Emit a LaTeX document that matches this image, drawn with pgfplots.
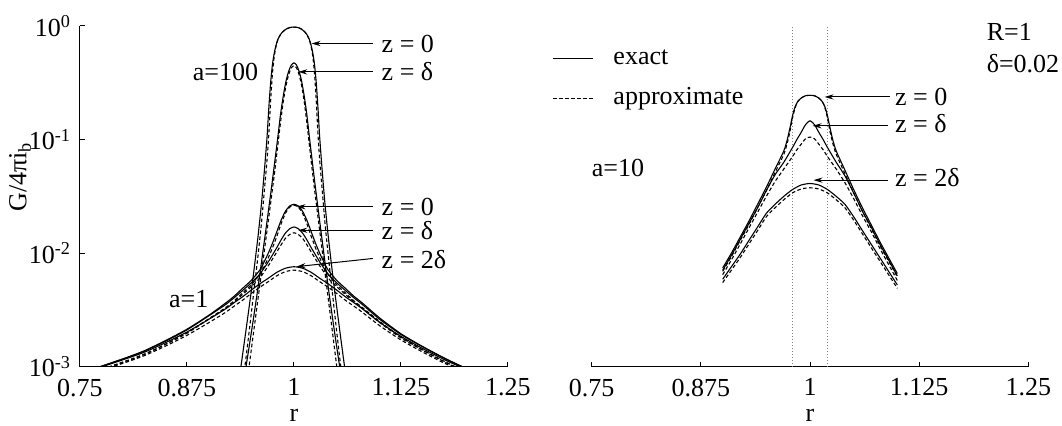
\documentclass[border=0pt]{standalone}
\usepackage{fontspec}
\setmainfont{Liberation Serif}
\usepackage{pgfplots}
\pgfplotsset{compat=1.18}
\usetikzlibrary{arrows.meta}
\tikzset{
  lab/.style={anchor=west, inner sep=0pt},
  arr/.style={-{Stealth[length=4.5pt,width=2.6pt]}, line width=0.5pt}
}
\pgfplotsset{
  ex/.style={black, line width=0.55pt, smooth, tension=0.4, no marks},
  ap/.style={black, line width=0.55pt, dash pattern=on 1.8pt off 1.2pt, smooth, tension=0.4, no marks}
}
\begin{document}
\fontsize{13}{15}\selectfont
\begin{tikzpicture}[font=\fontsize{13}{15}\selectfont]
\useasboundingbox (0,0) rectangle (531pt,212.5pt);
% ---------------- left panel ----------------
\begin{axis}[scale only axis, anchor=south west, ymode=log,
  xmin=0.75, xmax=1.25, ymin=0.001, ymax=1, height=170.4pt,
  xtick={0.75,0.875,1,1.125,1.25}, xticklabels={0.75,0.875,1,1.125,1.25},
  xticklabel style={inner sep=0.5pt, yshift=-5.3pt},
  axis x line=bottom, axis y line=left,
  axis line style={-, line width=0.5pt},
  every outer x axis line/.append style={-}, every outer y axis line/.append style={-},
  tick align=inside, major tick length=2.5pt, yminorticks=false, xminorticks=false,
  tick style={line width=0.5pt, black},
  xlabel={r}, xlabel style={at={(axis description cs:0.5,0)}, anchor=base, inner sep=0pt, yshift=-27.3pt},
  clip mode=individual,
  at={(40pt,29.15pt)}, width=214pt,
  ytick={0.001,0.01,0.1,1},
  yticklabels={10\textsuperscript{-3},10\textsuperscript{-2},10\textsuperscript{-1},10\textsuperscript{0}},
  ylabel={G/4πi\textsubscript{b}},
  ylabel style={at={(axis description cs:-0.140,0.557)}, anchor=center}]
% a=100, z=0
\addplot[ex] coordinates {(0.93175,0.000501)(0.937,0.000891)(0.94225,0.00170)(0.9475,0.00331)(0.95275,0.00661)(0.958,0.0141)(0.9622,0.0282)(0.96535,0.0525)(0.9685,0.105)(0.9706,0.191)(0.9727,0.316)(0.9748,0.457)(0.9769,0.575)(0.979,0.676)(0.9811,0.759)(0.98425,0.841)(0.9874,0.895)(0.9916,0.944)(0.9958,0.971)(1,0.977)(1.004,0.971)(1.008,0.944)(1.012,0.895)(1.015,0.841)(1.018,0.759)(1.02,0.676)(1.022,0.575)(1.024,0.457)(1.026,0.316)(1.028,0.191)(1.03,0.105)(1.033,0.0525)(1.036,0.0282)(1.04,0.0141)(1.045,0.00661)(1.05,0.00331)(1.055,0.00170)(1.06,0.000891)(1.065,0.000501)};
\addplot[ap] coordinates {(0.937,0.000501)(0.94225,0.000955)(0.9475,0.00200)(0.95275,0.00437)(0.958,0.00955)(0.9622,0.0191)(0.96535,0.0355)(0.9685,0.0661)(0.9706,0.112)(0.9727,0.219)(0.9748,0.380)(0.9769,0.537)(0.979,0.661)(0.9811,0.750)(0.98425,0.841)(0.9874,0.895)(0.9916,0.944)(0.9958,0.971)(1,0.977)(1.004,0.971)(1.008,0.944)(1.012,0.895)(1.015,0.841)(1.018,0.750)(1.02,0.661)(1.022,0.537)(1.024,0.380)(1.026,0.219)(1.028,0.112)(1.03,0.0661)(1.033,0.0355)(1.036,0.0191)(1.04,0.00955)(1.045,0.00437)(1.05,0.00200)(1.055,0.000955)(1.06,0.000501)};
% a=100, z=delta
\addplot[ex] coordinates {(0.937,0.000468)(0.94225,0.000832)(0.9475,0.00148)(0.95275,0.00269)(0.958,0.00501)(0.96325,0.00977)(0.9685,0.0191)(0.97375,0.0380)(0.97795,0.0676)(0.9811,0.105)(0.98425,0.166)(0.9874,0.240)(0.99055,0.324)(0.9937,0.398)(0.99685,0.452)(1,0.473)(1.003,0.452)(1.006,0.398)(1.009,0.324)(1.012,0.240)(1.015,0.166)(1.018,0.105)(1.021,0.0676)(1.025,0.0380)(1.03,0.0191)(1.035,0.00977)(1.04,0.00501)(1.045,0.00269)(1.05,0.00148)(1.055,0.000832)(1.06,0.000468)};
\addplot[ap] coordinates {(0.94225,0.000501)(0.9475,0.00100)(0.95275,0.00200)(0.958,0.00398)(0.96325,0.00794)(0.9685,0.0158)(0.97375,0.0316)(0.97795,0.0562)(0.9811,0.0891)(0.98425,0.141)(0.9874,0.214)(0.99055,0.295)(0.9937,0.372)(0.99685,0.427)(1,0.447)(1.003,0.427)(1.006,0.372)(1.009,0.295)(1.012,0.214)(1.015,0.141)(1.018,0.0891)(1.021,0.0562)(1.025,0.0316)(1.03,0.0158)(1.035,0.00794)(1.04,0.00398)(1.045,0.00200)(1.05,0.00100)(1.055,0.000501)};
% a=1, z=0
\addplot[ex] coordinates {(0.75,0.000871)(0.8,0.00117)(0.825,0.00138)(0.85,0.00170)(0.875,0.00214)(0.9,0.00282)(0.92,0.00363)(0.93,0.00417)(0.94,0.00490)(0.95,0.00575)(0.96,0.00708)(0.965,0.00832)(0.97,0.0100)(0.975,0.0123)(0.98,0.0155)(0.985,0.0195)(0.99,0.0234)(0.995,0.0260)(1,0.0269)(1.005,0.0260)(1.01,0.0234)(1.015,0.0195)(1.02,0.0155)(1.025,0.0123)(1.03,0.0100)(1.035,0.00832)(1.04,0.00708)(1.05,0.00575)(1.06,0.00490)(1.07,0.00417)(1.08,0.00363)(1.1,0.00269)(1.125,0.00195)(1.15,0.00151)(1.175,0.00120)(1.2,0.000977)(1.25,0.000676)};
\addplot[ap] coordinates {(0.75,0.000813)(0.8,0.00110)(0.825,0.00129)(0.85,0.00158)(0.875,0.00200)(0.9,0.00263)(0.92,0.00331)(0.93,0.00380)(0.94,0.00447)(0.95,0.00525)(0.96,0.00646)(0.965,0.00759)(0.97,0.00912)(0.975,0.0112)(0.98,0.0141)(0.985,0.0182)(0.99,0.0224)(0.995,0.0254)(1,0.0264)(1.005,0.0254)(1.01,0.0224)(1.015,0.0182)(1.02,0.0141)(1.025,0.0112)(1.03,0.00912)(1.035,0.00759)(1.04,0.00646)(1.05,0.00525)(1.06,0.00447)(1.07,0.00380)(1.08,0.00331)(1.1,0.00251)(1.125,0.00182)(1.15,0.00141)(1.175,0.00112)(1.2,0.000912)(1.25,0.000631)};
% a=1, z=delta
\addplot[ex] coordinates {(0.75,0.000871)(0.8,0.00117)(0.825,0.00137)(0.85,0.00168)(0.875,0.00211)(0.9,0.00279)(0.92,0.00352)(0.93,0.00404)(0.94,0.00469)(0.95,0.00547)(0.96,0.00653)(0.97,0.00839)(0.98,0.0112)(0.985,0.0131)(0.99,0.0150)(0.995,0.0164)(1,0.0170)(1.005,0.0164)(1.01,0.0150)(1.015,0.0131)(1.02,0.0112)(1.03,0.00839)(1.04,0.00653)(1.05,0.00547)(1.06,0.00469)(1.07,0.00404)(1.08,0.00352)(1.1,0.00262)(1.125,0.00192)(1.15,0.00150)(1.175,0.00119)(1.2,0.000971)(1.25,0.000676)};
\addplot[ap] coordinates {(0.75,0.000813)(0.8,0.00109)(0.825,0.00128)(0.85,0.00157)(0.875,0.00197)(0.9,0.00261)(0.92,0.00325)(0.93,0.00372)(0.94,0.00433)(0.95,0.00505)(0.96,0.00603)(0.97,0.00774)(0.98,0.01026)(0.985,0.01186)(0.99,0.0135)(0.995,0.0146)(1,0.0151)(1.005,0.0146)(1.01,0.0135)(1.015,0.01186)(1.02,0.01026)(1.03,0.00774)(1.04,0.00603)(1.05,0.00505)(1.06,0.00433)(1.07,0.00372)(1.08,0.00325)(1.1,0.00245)(1.125,0.00179)(1.15,0.00140)(1.175,0.00111)(1.2,0.000906)(1.25,0.000631)};
% a=1, z=2delta
\addplot[ex] coordinates {(0.75,0.000861)(0.8,0.00115)(0.825,0.00134)(0.85,0.00163)(0.875,0.00202)(0.9,0.00260)(0.92,0.00323)(0.93,0.00366)(0.94,0.00413)(0.95,0.00472)(0.96,0.00536)(0.97,0.00601)(0.98,0.00678)(0.99,0.00736)(1,0.00759)(1.01,0.00736)(1.02,0.00678)(1.03,0.00601)(1.04,0.00536)(1.05,0.00472)(1.06,0.00413)(1.07,0.00366)(1.08,0.00323)(1.1,0.00246)(1.125,0.00185)(1.15,0.00145)(1.175,0.00116)(1.2,0.000955)(1.25,0.000668)};
\addplot[ap] coordinates {(0.75,0.000804)(0.8,0.00107)(0.825,0.00125)(0.85,0.00152)(0.875,0.00189)(0.9,0.00243)(0.92,0.00301)(0.93,0.00341)(0.94,0.00385)(0.95,0.00441)(0.96,0.00500)(0.97,0.00561)(0.98,0.00632)(0.99,0.00687)(1,0.00708)(1.01,0.00687)(1.02,0.00632)(1.03,0.00561)(1.04,0.00500)(1.05,0.00441)(1.06,0.00385)(1.07,0.00341)(1.08,0.00301)(1.1,0.00230)(1.125,0.00172)(1.15,0.00135)(1.175,0.00108)(1.2,0.000891)(1.25,0.000624)};
% annotations
\node[anchor=center] at (axis cs:0.920,0.394) {a=100};
\node[anchor=center] at (axis cs:0.877,0.00398) {a=1};
\draw[arr] (axis cs:1.092,0.70) -- (axis cs:1.0205,0.70);
\node[lab] at (axis cs:1.102,0.70) {z = 0};
\draw[arr] (axis cs:1.092,0.394) -- (axis cs:1.005,0.394);
\node[lab] at (axis cs:1.102,0.394) {z = δ};
\draw[arr] (axis cs:1.092,0.0256) -- (axis cs:1.003,0.0256);
\node[lab] at (axis cs:1.102,0.0256) {z = 0};
\draw[arr] (axis cs:1.092,0.0159) -- (axis cs:1.005,0.0159);
\node[lab] at (axis cs:1.102,0.0159) {z = δ};
\draw[arr] (axis cs:1.092,0.00897) -- (axis cs:1.003,0.0076);
\node[lab] at (axis cs:1.102,0.00879) {z = 2δ};
\end{axis}
% ---------------- right panel ----------------
\begin{axis}[scale only axis, anchor=south west, ymode=log,
  xmin=0.75, xmax=1.25, ymin=0.001, ymax=1, height=170.4pt,
  xtick={0.75,0.875,1,1.125,1.25}, xticklabels={0.75,0.875,1,1.125,1.25},
  xticklabel style={inner sep=0.5pt, yshift=-5.3pt},
  axis x line=bottom, axis y line=none,
  axis line style={-, line width=0.5pt},
  every outer x axis line/.append style={-},
  tick align=inside, major tick length=2.5pt, yminorticks=false, xminorticks=false,
  tick style={line width=0.5pt, black},
  xlabel={r}, xlabel style={at={(axis description cs:0.5,0)}, anchor=base, inner sep=0pt, yshift=-27.3pt},
  clip mode=individual,
  at={(295.85pt,29.15pt)}, width=218.3pt,
  ytick=\empty,
  legend style={draw=none, fill=none, at={(rel axis cs:-0.091,0.939)}, anchor=north west,
    inner sep=0pt, row sep=9pt, nodes={inner sep=0pt, text height=8.5pt, text depth=2.5pt},
    /tikz/every odd column/.append style={column sep=10pt}},
  legend cell align=left,
  legend image code/.code={\draw[#1] (0pt,0pt) -- (20pt,0pt);}]
\addlegendimage{black, line width=0.55pt}\addlegendentry{exact}
\addlegendimage{black, line width=0.55pt, dash pattern=on 1.8pt off 1.2pt}\addlegendentry{approximate}
\addplot[gray, densely dotted, line width=0.5pt, forget plot] coordinates {(0.98,0.001)(0.98,1)};
\addplot[gray, densely dotted, line width=0.5pt, forget plot] coordinates {(1.02,0.001)(1.02,1)};
% a=10, z=0
\addplot[ex, forget plot] coordinates {(0.9,0.00741)(0.91,0.0100)(0.92,0.0138)(0.93,0.0191)(0.94,0.0269)(0.95,0.0380)(0.96,0.0550)(0.97,0.0794)(0.974,0.100)(0.977,0.126)(0.98,0.162)(0.983,0.195)(0.986,0.216)(0.99,0.232)(0.995,0.243)(1,0.245)(1.005,0.243)(1.01,0.232)(1.014,0.216)(1.017,0.195)(1.02,0.162)(1.023,0.126)(1.026,0.100)(1.03,0.0794)(1.04,0.0537)(1.05,0.0363)(1.06,0.0251)(1.07,0.0178)(1.08,0.0126)(1.09,0.00912)(1.1,0.00661)};
\addplot[ap, forget plot] coordinates {(0.9,0.00692)(0.91,0.00933)(0.92,0.0129)(0.93,0.0178)(0.94,0.0251)(0.95,0.0355)(0.96,0.0513)(0.97,0.0741)(0.974,0.0933)(0.977,0.117)(0.98,0.155)(0.983,0.191)(0.986,0.216)(0.99,0.232)(0.995,0.243)(1,0.245)(1.005,0.243)(1.01,0.232)(1.014,0.216)(1.017,0.191)(1.02,0.155)(1.023,0.117)(1.026,0.0933)(1.03,0.0741)(1.04,0.0501)(1.05,0.0339)(1.06,0.0234)(1.07,0.0166)(1.08,0.0117)(1.09,0.00851)(1.1,0.00617)};
% a=10, z=delta
\addplot[ex, forget plot] coordinates {(0.9,0.00708)(0.91,0.00955)(0.92,0.0132)(0.93,0.0182)(0.94,0.0251)(0.95,0.0355)(0.96,0.0490)(0.97,0.0631)(0.98,0.0851)(0.985,0.100)(0.99,0.116)(0.994,0.132)(0.997,0.141)(1,0.146)(1.003,0.141)(1.006,0.132)(1.01,0.116)(1.015,0.100)(1.02,0.0851)(1.03,0.0631)(1.04,0.0479)(1.05,0.0339)(1.06,0.0234)(1.07,0.0170)(1.08,0.0120)(1.09,0.00871)(1.1,0.00631)};
\addplot[ap, forget plot] coordinates {(0.9,0.00646)(0.91,0.00871)(0.92,0.0120)(0.93,0.0166)(0.94,0.0229)(0.95,0.0316)(0.96,0.0427)(0.97,0.0550)(0.98,0.0708)(0.985,0.0813)(0.99,0.0912)(0.994,0.100)(0.997,0.104)(1,0.105)(1.003,0.104)(1.006,0.100)(1.01,0.0912)(1.015,0.0813)(1.02,0.0708)(1.03,0.0550)(1.04,0.0417)(1.05,0.0302)(1.06,0.0214)(1.07,0.0155)(1.08,0.0110)(1.09,0.00794)(1.1,0.00575)};
% a=10, z=2delta
\addplot[ex, forget plot] coordinates {(0.9,0.00589)(0.91,0.00759)(0.92,0.00977)(0.93,0.0129)(0.94,0.0170)(0.95,0.0224)(0.96,0.0269)(0.97,0.0316)(0.98,0.0363)(0.99,0.0398)(1,0.0410)(1.01,0.0398)(1.02,0.0363)(1.03,0.0316)(1.04,0.0269)(1.05,0.0209)(1.06,0.0158)(1.07,0.0120)(1.08,0.00912)(1.09,0.00692)(1.1,0.00525)};
\addplot[ap, forget plot] coordinates {(0.9,0.00550)(0.91,0.00708)(0.92,0.00912)(0.93,0.0120)(0.94,0.0158)(0.95,0.0209)(0.96,0.0251)(0.97,0.0295)(0.98,0.0339)(0.99,0.0367)(1,0.0376)(1.01,0.0367)(1.02,0.0339)(1.03,0.0295)(1.04,0.0251)(1.05,0.0195)(1.06,0.0148)(1.07,0.0112)(1.08,0.00851)(1.09,0.00646)(1.1,0.00490)};
% annotations
\node[anchor=center] at (axis cs:0.780,0.0556) {a=10};
\node[lab] at (axis cs:1.202,0.885) {R=1};
\node[lab] at (axis cs:1.202,0.466) {δ=0.02};
\draw[arr] (axis cs:1.0914,0.237) -- (axis cs:1.0167,0.237);
\node[lab] at (axis cs:1.097,0.237) {z = 0};
\draw[arr] (axis cs:1.0895,0.132) -- (axis cs:1.003,0.132);
\node[lab] at (axis cs:1.097,0.138) {z = δ};
\draw[arr] (axis cs:1.0895,0.0439) -- (axis cs:1.004,0.0439);
\node[lab] at (axis cs:1.097,0.046) {z = 2δ};
\end{axis}
\end{tikzpicture}
\end{document}
